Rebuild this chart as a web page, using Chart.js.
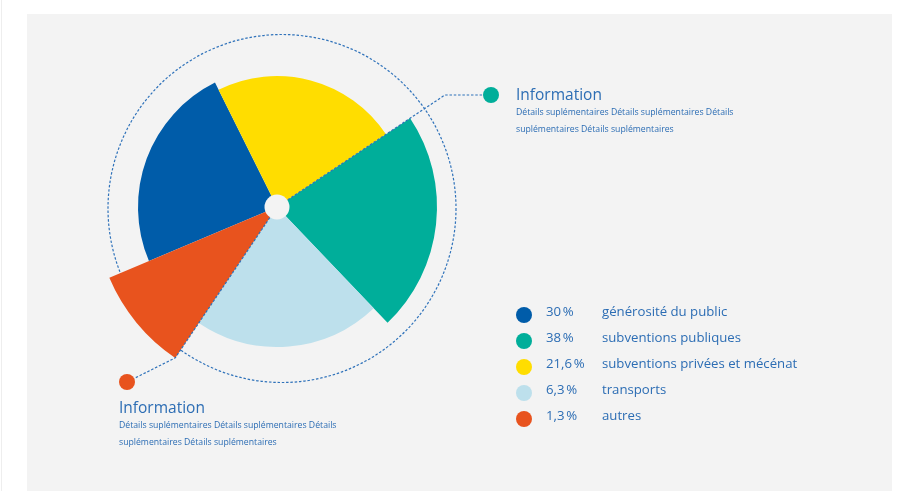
<!DOCTYPE html>
<html lang="fr">
<head>
<meta charset="utf-8">
<script src="https://cdn.jsdelivr.net/npm/chart.js@4/dist/chart.umd.min.js"></script>
<style>
  body { margin: 0; background: #fff; font-family: "Open Sans", sans-serif; }
  #wrap { position: relative; width: 906px; height: 491px; overflow: hidden; }
  #edge { position: absolute; left: 1px; top: 0; width: 1px; height: 491px; background: #eeeeee; }
  #panel { position: absolute; left: 27px; top: 14px; width: 865px; height: 477px; background: #f3f3f3; }
  #chart { position: absolute; left: 0; top: 0; }
  .info { position: absolute; color: #2c6db4; }
  .info .titre { font-size: 15.5px; line-height: 20px; }
  .info .details { font-size: 8.7px; line-height: 17px; }
  #legende { position: absolute; left: 514px; top: 298px; color: #2c6db4; font-size: 13.2px; }
  .ligne { position: relative; height: 26px; line-height: 26px; white-space: nowrap; }
  .ligne .pastille { position: absolute; left: 2px; top: 9px; width: 16px; height: 16px; border-radius: 50%; }
  .ligne .pct { position: absolute; left: 32px; }
  .ligne .nom { position: absolute; left: 88px; }
</style>
</head>
<body>
<div id="wrap">
  <div id="edge"></div>
  <div id="panel"></div>
  <canvas id="chart" width="906" height="491"></canvas>
  <div class="info" style="left:516px; top:84px;">
    <div class="titre">Information</div>
    <div class="details">Détails suplémentaires Détails suplémentaires Détails<br>suplémentaires Détails suplémentaires</div>
  </div>
  <div class="info" style="left:119px; top:397px;">
    <div class="titre">Information</div>
    <div class="details">Détails suplémentaires Détails suplémentaires Détails<br>suplémentaires Détails suplémentaires</div>
  </div>
  <div id="legende"></div>
</div>
<script>
// secteurs dans l'ordre de tracé (sens horaire depuis le bleu)
const categories = ['générosité du public', 'subventions privées et mécénat', 'subventions publiques', 'transports', 'autres'];
const pourcentages = ['30', '21,6', '38', '6,3', '1,3'];
const rayons = [139, 131, 160, 140, 182];        // longueur de chaque secteur
const angles = [86.4, 82.8, 80, 77.7, 33.1];     // ouverture de chaque secteur, en degrés
const couleurs = ['#005ca9', '#ffdd00', '#00ae9a', '#bde0ec', '#e8531e'];
const ordreLegende = [0, 2, 1, 3, 4];

const fond = '#f3f3f3';
const pointille = '#2f72ba';

// légende html
const legende = document.getElementById('legende');
ordreLegende.forEach(i => {
    const ligne = document.createElement('div');
    ligne.className = 'ligne';
    ligne.innerHTML = '<span class="pastille" style="background:' + couleurs[i] + '"></span>' +
        '<span class="pct">' + pourcentages[i] + '\u202f%</span>' +
        '<span class="nom">' + categories[i] + '</span>';
    legende.appendChild(ligne);
});

const decor = {
    id: 'decor',
    beforeDatasetsDraw(chart) {
        const r = chart.scales.r;
        const ctx = chart.ctx;
        ctx.save();
        ctx.strokeStyle = pointille;
        ctx.lineWidth = 1.2;
        ctx.setLineDash([2.5, 1.8]);
        ctx.beginPath();
        ctx.arc(r.xCenter + 5, r.yCenter + 1.5, 174, 0, Math.PI * 2);
        ctx.stroke();
        ctx.restore();
    },
    afterDatasetsDraw(chart) {
        const r = chart.scales.r;
        const cx = r.xCenter, cy = r.yCenter;
        const arcs = chart.getDatasetMeta(0).data;
        const ctx = chart.ctx;
        ctx.save();
        ctx.strokeStyle = pointille;
        ctx.lineWidth = 1.2;
        ctx.setLineDash([2.5, 1.8]);

        // rappel vert : le long du bord jaune / vert, puis horizontal
        const a1 = arcs[2].startAngle;
        const yCoude = 95;
        const t = (yCoude - cy) / Math.sin(a1);
        ctx.beginPath();
        ctx.moveTo(cx, cy);
        ctx.lineTo(cx + t * Math.cos(a1), yCoude);
        ctx.lineTo(491, yCoude);
        ctx.stroke();

        // rappel orange : le long du bord bleu clair / orange, puis vers la pastille
        const a2 = arcs[4].startAngle;
        const R = arcs[4].outerRadius;
        ctx.beginPath();
        ctx.moveTo(cx, cy);
        ctx.lineTo(cx + R * Math.cos(a2), cy + R * Math.sin(a2));
        ctx.lineTo(127, 382);
        ctx.stroke();
        ctx.setLineDash([]);

        // pastilles
        ctx.fillStyle = couleurs[2];
        ctx.beginPath();
        ctx.arc(491, 95, 8, 0, Math.PI * 2);
        ctx.fill();
        ctx.fillStyle = couleurs[4];
        ctx.beginPath();
        ctx.arc(127, 382, 8, 0, Math.PI * 2);
        ctx.fill();

        // trou central
        ctx.fillStyle = fond;
        ctx.beginPath();
        ctx.arc(cx, cy, 12.5, 0, Math.PI * 2);
        ctx.fill();
        ctx.restore();
    }
};

new Chart(document.getElementById('chart'), {
    type: 'polarArea',
    data: {
        labels: categories,
        datasets: [{
            data: rayons,
            angle: angles,
            backgroundColor: couleurs,
            borderWidth: 0
        }]
    },
    options: {
        responsive: false,
        animation: false,
        layout: { padding: { left: 77, top: 7, right: 429, bottom: 84 } },
        scales: {
            r: {
                min: 0,
                max: 200,
                startAngle: 247.1,
                grid: { display: false },
                angleLines: { display: false },
                ticks: { display: false },
                pointLabels: { display: false }
            }
        },
        plugins: {
            legend: { display: false },
            tooltip: { enabled: true }
        }
    },
    plugins: [decor]
});
</script>
</body>
</html>
